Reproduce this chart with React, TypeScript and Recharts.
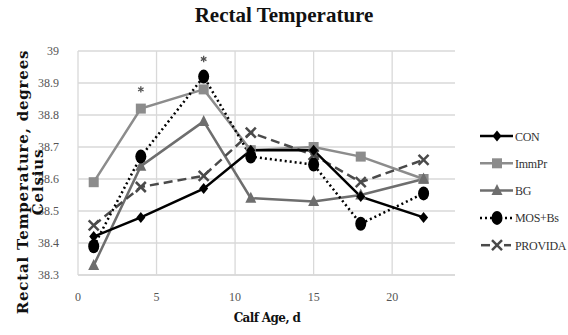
import React from 'react';
import { ComposedChart, Line, XAxis, YAxis, CartesianGrid } from 'recharts';

const days = [1, 4, 8, 11, 15, 18, 22];
const con = [38.42, 38.48, 38.57, 38.69, 38.69, 38.545, 38.48];
const immpr = [38.59, 38.82, 38.88, 38.69, 38.70, 38.67, 38.60];
const bg = [38.33, 38.64, 38.78, 38.54, 38.53, 38.55, 38.60];
const mosbs = [38.39, 38.67, 38.92, 38.67, 38.645, 38.46, 38.555];
const provida = [38.455, 38.575, 38.61, 38.745, 38.675, 38.59, 38.66];
const sigDays = [4, 8];
const sigValues = [38.88, 38.975];
const xTicks = [0, 5, 10, 15, 20];
const yTicks = [38.3, 38.4, 38.5, 38.6, 38.7, 38.8, 38.9, 39];

const toData = (vals: number[]) => days.map((d, i) => ({ day: d, v: vals[i] }));
const sigData = sigDays.map((d, i) => ({ day: d, v: sigValues[i] }));

const C_CON = '#000000';
const C_IMM = '#8c8c8c';
const C_BG = '#6e6e6e';
const C_MOS = '#000000';
const C_PRO = '#4a4a4a';

type MarkerKind = 'diamond' | 'square' | 'triangle' | 'ellipse' | 'x';

function Marker({ kind, cx, cy, color }: { kind: MarkerKind; cx: number; cy: number; color: string }) {
  if (kind === 'diamond') {
    return <polygon points={`${cx},${cy - 5.5} ${cx + 4.5},${cy} ${cx},${cy + 5.5} ${cx - 4.5},${cy}`} fill={color} />;
  }
  if (kind === 'square') {
    return <rect x={cx - 5} y={cy - 5} width={10} height={10} fill={color} />;
  }
  if (kind === 'triangle') {
    return <polygon points={`${cx},${cy - 6.5} ${cx + 5.5},${cy + 4.5} ${cx - 5.5},${cy + 4.5}`} fill={color} />;
  }
  if (kind === 'ellipse') {
    return <ellipse cx={cx} cy={cy} rx={5.5} ry={7} fill={color} />;
  }
  return (
    <g stroke={color} strokeWidth={2.5}>
      <line x1={cx - 5} y1={cy - 5} x2={cx + 5} y2={cy + 5} />
      <line x1={cx - 5} y1={cy + 5} x2={cx + 5} y2={cy - 5} />
    </g>
  );
}

const dotFor = (kind: MarkerKind, color: string) => (props: any) => {
  const { cx, cy, index } = props;
  if (cx == null || cy == null) return <g key={index} />;
  return (
    <g key={index}>
      <Marker kind={kind} cx={cx} cy={cy} color={color} />
    </g>
  );
};

const starDot = (props: any) => {
  const { cx, cy, index } = props;
  const r = 3.2;
  const pts = [0, 60, 120].map((a) => {
    const rad = ((a + 90) * Math.PI) / 180;
    return { dx: r * Math.cos(rad), dy: r * Math.sin(rad) };
  });
  return (
    <g key={index} stroke="#555" strokeWidth={1.3}>
      {pts.map((p, k) => (
        <line key={k} x1={cx - p.dx} y1={cy - p.dy} x2={cx + p.dx} y2={cy + p.dy} />
      ))}
    </g>
  );
};

const seriesDefs = [
  { name: 'CON', color: C_CON, kind: 'diamond' as MarkerKind, dash: '' },
  { name: 'ImmPr', color: C_IMM, kind: 'square' as MarkerKind, dash: '' },
  { name: 'BG', color: C_BG, kind: 'triangle' as MarkerKind, dash: '' },
  { name: 'MOS+Bs', color: C_MOS, kind: 'ellipse' as MarkerKind, dash: '2 3' },
  { name: 'PROVIDA', color: C_PRO, kind: 'x' as MarkerKind, dash: 'pro' },
];

const LegendBox = () => (
  <svg width={88} height={130} style={{ position: 'absolute', left: 480, top: 128 }}>
    {seriesDefs.map((s, i) => {
      const y = 8 + i * 27.3;
      return (
        <g key={s.name}>
          {s.dash === 'pro' ? (
            <g>
              <line x1={1} y1={y} x2={10} y2={y} stroke={s.color} strokeWidth={2.5} />
              <line x1={24} y1={y} x2={31} y2={y} stroke={s.color} strokeWidth={2.5} />
            </g>
          ) : (
            <line x1={0} y1={y} x2={33} y2={y} stroke={s.color} strokeWidth={2.5} strokeDasharray={s.dash || undefined} />
          )}
          <Marker kind={s.kind} cx={17} cy={y} color={s.color} />
          <text x={35} y={y + 4.5} fontFamily="Liberation Serif" fontSize={12} fill="#333" letterSpacing={-0.3}>
            {s.name}
          </text>
        </g>
      );
    })}
  </svg>
);

export default function App() {
  return (
    <div style={{ position: 'absolute', left: 0, top: 0, width: 568, height: 335, background: '#fff' }}>
      <ComposedChart width={568} height={335} margin={{ top: 51, right: 113, bottom: 0, left: 0 }}>
        <CartesianGrid stroke="#d9d9d9" strokeWidth={1.3} verticalValues={xTicks} horizontalValues={yTicks} />
        <XAxis
          type="number"
          dataKey="day"
          domain={[0, 24]}
          ticks={xTicks}
          allowDataOverflow
          height={60}
          tickLine={false}
          axisLine={{ stroke: '#d9d9d9', strokeWidth: 1.3 }}
          tickMargin={11}
          tick={{ fontFamily: 'Liberation Serif', fontSize: 12, fill: '#555' }}
        />
        <YAxis
          type="number"
          domain={[38.3, 39]}
          ticks={yTicks}
          width={78}
          tickLine={false}
          axisLine={false}
          tickMargin={13}
          tickFormatter={(v: number) => (Math.round(v * 10) / 10).toString()}
          tick={{ fontFamily: 'Liberation Serif', fontSize: 12, fill: '#555' }}
        />
        <Line data={toData(immpr)} dataKey="v" name="ImmPr" stroke={C_IMM} strokeWidth={2.5} dot={dotFor('square', C_IMM)} isAnimationActive={false} />
        <Line data={toData(bg)} dataKey="v" name="BG" stroke={C_BG} strokeWidth={2.5} dot={dotFor('triangle', C_BG)} isAnimationActive={false} />
        <Line data={toData(provida)} dataKey="v" name="PROVIDA" stroke={C_PRO} strokeWidth={2.5} strokeDasharray="9 5" dot={dotFor('x', C_PRO)} isAnimationActive={false} />
        <Line data={toData(con)} dataKey="v" name="CON" stroke={C_CON} strokeWidth={2.5} dot={dotFor('diamond', C_CON)} isAnimationActive={false} />
        <Line data={toData(mosbs)} dataKey="v" name="MOS+Bs" stroke={C_MOS} strokeWidth={2.5} strokeDasharray="2 3" dot={dotFor('ellipse', C_MOS)} isAnimationActive={false} />
        <Line data={sigData} dataKey="v" name="sig" stroke="none" dot={starDot} isAnimationActive={false} />
      </ComposedChart>
      <LegendBox />
      <div style={{ position: 'absolute', left: 284, top: 3, transform: 'translateX(-50%)', fontFamily: 'Liberation Serif', fontWeight: 'bold', fontSize: 21, color: '#111', whiteSpace: 'nowrap' }}>
        Rectal Temperature
      </div>
      <div style={{ position: 'absolute', left: 267, top: 311, transform: 'translateX(-50%)', fontFamily: 'DejaVu Serif', fontWeight: 'bold', fontSize: 12, color: '#111', whiteSpace: 'nowrap', letterSpacing: -0.6 }}>
        Calf Age, d
      </div>
      <div style={{ position: 'absolute', left: 31, top: 182, width: 0, height: 0 }}>
        <div style={{ position: 'absolute', left: 0, top: 0, transform: 'translate(-50%, -50%) rotate(-90deg)', fontFamily: 'DejaVu Serif', fontWeight: 'bold', fontSize: 15, color: '#111', whiteSpace: 'nowrap', textAlign: 'center', lineHeight: '15px', letterSpacing: 0.8 }}>
          Rectal Temperature, degrees
          <br />
          Celsius
        </div>
      </div>
    </div>
  );
}
